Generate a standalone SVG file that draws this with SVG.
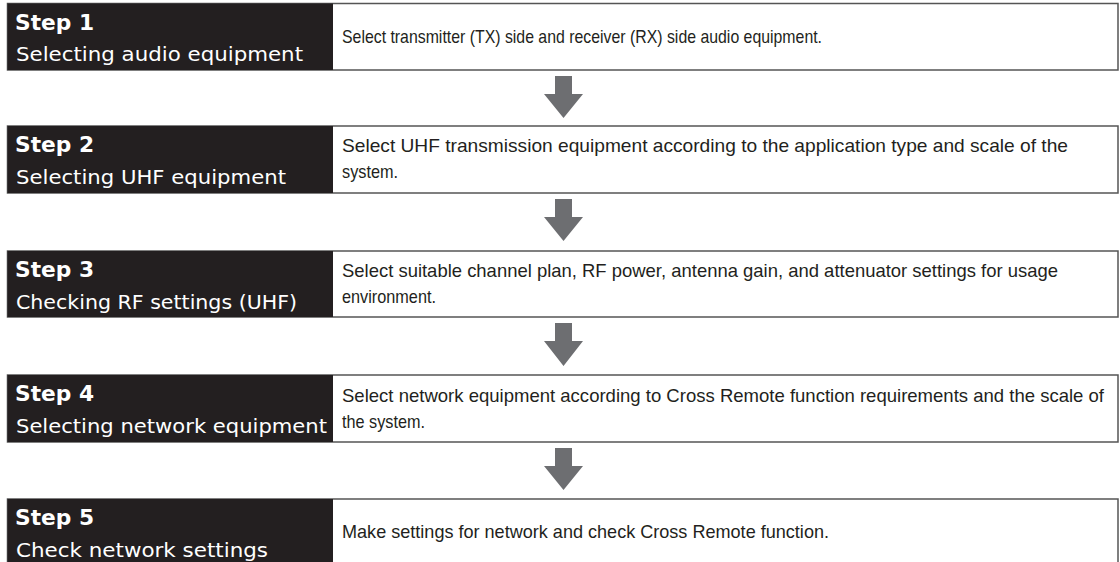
<svg xmlns="http://www.w3.org/2000/svg" width="1120" height="562" viewBox="0 0 1120 562">
<style>
.box{fill:#ffffff;stroke:#555555;stroke-width:1.5}
.head{fill:#231f20}
.step{font-family:"DejaVu Sans",sans-serif;font-weight:bold;font-size:22px;fill:#ffffff}
.sub{font-family:"DejaVu Sans",sans-serif;font-size:20px;fill:#ffffff}
.desc{font-family:"Liberation Sans",Arial,sans-serif;font-size:18.5px;fill:#231f20}
.arrow{fill:#6d6e71}
</style>
<rect width="1120" height="562" fill="#ffffff"/>
<g id="step1">
<rect class="box" x="7.5" y="3.5" width="1110.5" height="66.5"/>
<rect class="head" x="7.5" y="3.5" width="325.5" height="66.5"/>
<text class="step" x="15" y="29.5" textLength="79" lengthAdjust="spacingAndGlyphs">Step 1</text>
<text class="sub" x="16" y="61" textLength="287" lengthAdjust="spacingAndGlyphs">Selecting audio equipment</text>
<text class="desc" x="342" y="43" textLength="480" lengthAdjust="spacingAndGlyphs">Select transmitter (TX) side and receiver (RX) side audio equipment.</text>
</g>
<g id="step2">
<rect class="box" x="7.5" y="126" width="1110.5" height="67"/>
<rect class="head" x="7.5" y="126" width="325.5" height="67"/>
<text class="step" x="15" y="152" textLength="79" lengthAdjust="spacingAndGlyphs">Step 2</text>
<text class="sub" x="16" y="184" textLength="270" lengthAdjust="spacingAndGlyphs">Selecting UHF equipment</text>
<text class="desc" x="342" y="152" textLength="726" lengthAdjust="spacingAndGlyphs">Select UHF transmission equipment according to the application type and scale of the</text>
<text class="desc" x="342" y="178" textLength="56" lengthAdjust="spacingAndGlyphs">system.</text>
</g>
<g id="step3">
<rect class="box" x="7.5" y="251" width="1110.5" height="66"/>
<rect class="head" x="7.5" y="251" width="325.5" height="66"/>
<text class="step" x="15" y="277" textLength="79" lengthAdjust="spacingAndGlyphs">Step 3</text>
<text class="sub" x="16" y="309" textLength="281" lengthAdjust="spacingAndGlyphs">Checking RF settings (UHF)</text>
<text class="desc" x="342" y="277" textLength="716" lengthAdjust="spacingAndGlyphs">Select suitable channel plan, RF power, antenna gain, and attenuator settings for usage</text>
<text class="desc" x="342" y="303" textLength="94" lengthAdjust="spacingAndGlyphs">environment.</text>
</g>
<g id="step4">
<rect class="box" x="7.5" y="375" width="1110.5" height="67"/>
<rect class="head" x="7.5" y="375" width="325.5" height="67"/>
<text class="step" x="15" y="401" textLength="79" lengthAdjust="spacingAndGlyphs">Step 4</text>
<text class="sub" x="16" y="433" textLength="311" lengthAdjust="spacingAndGlyphs">Selecting network equipment</text>
<text class="desc" x="342" y="402" textLength="762" lengthAdjust="spacingAndGlyphs">Select network equipment according to Cross Remote function requirements and the scale of</text>
<text class="desc" x="342" y="428" textLength="83" lengthAdjust="spacingAndGlyphs">the system.</text>
</g>
<g id="step5">
<rect class="box" x="7.5" y="499" width="1110.5" height="67"/>
<rect class="head" x="7.5" y="499" width="325.5" height="67"/>
<text class="step" x="15" y="525" textLength="79" lengthAdjust="spacingAndGlyphs">Step 5</text>
<text class="sub" x="16" y="557" textLength="252" lengthAdjust="spacingAndGlyphs">Check network settings</text>
<text class="desc" x="342" y="538" textLength="487" lengthAdjust="spacingAndGlyphs">Make settings for network and check Cross Remote function.</text>
</g>
<g id="connectors">
<path class="arrow" d="M555,76 H572 V94 H583 L563.5,118 L544,94 H555 Z"/>
<path class="arrow" d="M555,199 H572 V217 H583 L563.5,241 L544,217 H555 Z"/>
<path class="arrow" d="M555,323 H572 V341 H583 L563.5,366 L544,341 H555 Z"/>
<path class="arrow" d="M555,448 H572 V466 H583 L563.5,490 L544,466 H555 Z"/>
</g>
</svg>
